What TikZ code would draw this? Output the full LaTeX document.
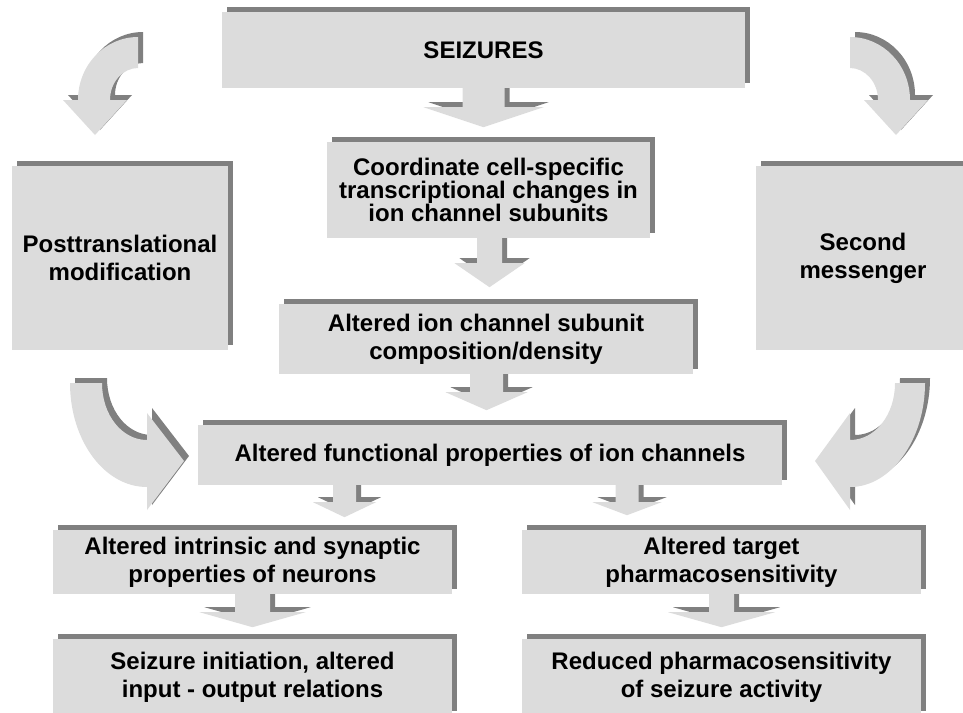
\documentclass[tikz,border=0pt]{standalone}
\usepackage{fontspec}
\setmainfont{Liberation Sans}
\usetikzlibrary{shadows,backgrounds}
\definecolor{boxgray}{RGB}{220,220,220}
\definecolor{edgegray}{RGB}{128,128,128}
\tikzset{
  panel/.style={fill=boxgray, inner sep=0pt, align=center,
    font=\fontsize{24}{28}\selectfont\bfseries,
    drop shadow={shadow xshift=5pt, shadow yshift=5pt, opacity=1, fill=edgegray}},
  fatarrow/.style={fill=boxgray,
    drop shadow={shadow xshift=5pt, shadow yshift=5pt, opacity=1, fill=edgegray}},
}
% block arrow pointing down: start, half shaft, half head, shaft length, head length
\newcommand{\fatdown}[5]{%
  \path[fatarrow] (#1) ++(-#2,0) -- ++(0,#4) -- ++(#2-#3,0) -- ++(#3,#5)
    -- ++(#3,-#5) -- ++(#2-#3,0) -- ++(0,-#4) -- cycle;}

\begin{document}
\begin{tikzpicture}[x=1pt,y=-1pt]
  \useasboundingbox (0,0) rectangle (963,712);
  \clip (0,0) rectangle (963,712);
  % Top row
  \node[panel, minimum width=523pt, minimum height=76pt] (seiz) at (483.5,50) {SEIZURES};
  \node[panel, minimum width=216pt, minimum height=184pt] (post) at (120,258) {Posttranslational\\modification};
  \node[panel, minimum width=214pt, minimum height=184pt] (second) at (863,258) {Second\\messenger};
  % Middle column
  \node[panel, minimum width=323pt, minimum height=96pt, font=\fontsize{24}{23}\selectfont\bfseries]
    (coord) at (488.5,190) {Coordinate cell-specific\\transcriptional changes in\\ion channel subunits};
  \node[panel, minimum width=414pt, minimum height=70pt] (comp) at (486,339) {Altered ion channel subunit\\composition/density};
  \node[panel, minimum width=584pt, minimum height=60pt] (func) at (490,455) {Altered functional properties of ion channels};
  % Bottom rows
  \node[panel, minimum width=399pt, minimum height=64pt] (neur) at (252.5,562) {Altered intrinsic and synaptic\\properties of neurons};
  \node[panel, minimum width=399pt, minimum height=64pt] (pharm) at (721.5,562) {Altered target\\pharmacosensitivity};
  \node[panel, minimum width=399pt, minimum height=77pt] (init) at (252.5,677.5) {Seizure initiation, altered\\input - output relations};
  \node[panel, minimum width=399pt, minimum height=77pt] (reduc) at (721.5,677.5) {Reduced pharmacosensitivity\\of seizure activity};
  % Straight block arrows: from / x offset / half shaft / half head / shaft / head
  \begin{scope}[on background layer]
    \foreach \from/\dx/\hs/\hh/\sl/\hl in {seiz/0/21/60/19/20, coord/1/12.5/35/25/24,
        comp/0.5/16.5/41/18/18, func/-145.5/11.5/31.5/17/15, func/137/11.5/34.5/17/13,
        neur/0/17.5/53/18/15, pharm/0/12.5/53.5/18/15}
      {\fatdown{[xshift=\dx pt]\from.south}{\hs}{\hh}{\sl}{\hl}}
  \end{scope}
  % Curved arrows
  \path[fatarrow] (138,37) .. controls (105,37) and (78,65) .. (78,100) -- (63,100) -- (95,135)
    -- (127,100) -- (110,100) .. controls (110,82) and (123,68) .. (138,68) -- cycle;
  \path[fatarrow] (850,37) .. controls (883,37) and (910,65) .. (910,100) -- (928,100) -- (896,135)
    -- (864,100) -- (878,100) .. controls (878,82) and (865,68) .. (850,68) -- cycle;
  \path[fatarrow] (70,383) .. controls (70,440) and (104,487) .. (147,487) -- (147,510) -- (184,461)
    -- (147,413) -- (147,440) .. controls (122,440) and (102,415) .. (102,383) -- cycle;
  \path[fatarrow] (925,383) .. controls (925,440) and (891,487) .. (850,487) -- (850,510) -- (815,461)
    -- (850,413) -- (850,440) .. controls (875,440) and (895,415) .. (895,383) -- cycle;
\end{tikzpicture}
\end{document}
